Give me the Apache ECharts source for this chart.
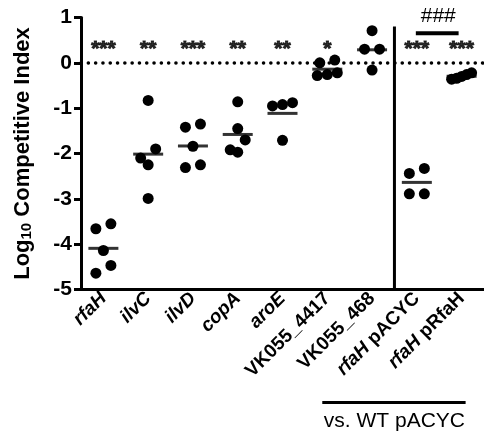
<!DOCTYPE html>
<html>
<head>
<meta charset="utf-8">
<script src="https://cdn.jsdelivr.net/npm/echarts@6/dist/echarts.min.js"></script>
<style>
  html, body { margin: 0; padding: 0; background: #fff; }
  #chart { width: 484px; height: 432px; }
</style>
</head>
<body>
<div id="chart"></div>
<script>
// data (log10 competitive index, one value per mouse)
const categories = ['rfaH', 'ilvC', 'ilvD', 'copA', 'aroE', 'VK055_4417', 'VK055_468', 'rfaH pACYC', 'rfaH pRfaH']
const rfaH = [-3.55, -3.66, -4.14, -4.47, -4.64]
const ilvC = [-0.83, -1.90, -2.10, -2.25, -2.99]
const ilvD = [-1.35, -1.42, -1.84, -2.25, -2.31]
const copA = [-0.86, -1.45, -1.70, -1.92, -1.97]
const aroE = [-0.88, -0.92, -0.95, -1.71]
const vk4417 = [0.06, 0.0, -0.22, -0.26, -0.28]
const vk468 = [0.71, 0.30, 0.30, -0.16]
const rfaHpACYC = [-2.33, -2.44, -2.89, -2.89]
const rfaHpRfaH = [-0.22, -0.26, -0.30, -0.34, -0.36]
const groups = [rfaH, ilvC, ilvD, copA, aroE, vk4417, vk468, rfaHpACYC, rfaHpRfaH]
const significance = ['***', '**', '***', '**', '**', '*', '', '***', '***']
const yMin = -5
const yMax = 1

const font = 'Liberation Sans, Arial, sans-serif'
const dotSize = 11
const gridHeight = 272
const pxPerUnit = gridHeight / (yMax - yMin)

// simple beeswarm: dots closer than one diameter share a row and get spread sideways
function swarm (values) {
  const sorted = values.slice().sort((a, b) => b - a)
  const rows = []
  sorted.forEach(v => {
    const row = rows[rows.length - 1]
    if (row && (row[0] - v) * pxPerUnit < dotSize) row.push(v)
    else rows.push([v])
  })
  const out = []
  rows.forEach(row => {
    const n = row.length
    const step = n === 2 ? 15 : (n > 2 ? 20 / (n - 1) : 0)
    row.forEach((v, i) => out.push([v, ((n - 1) / 2 - i) * step]))
  })
  return out
}

const dots = []
const means = []
groups.forEach((vals, i) => {
  swarm(vals).forEach(d => dots.push([i, d[0], d[1]]))
  means.push([i, vals.reduce((a, b) => a + b, 0) / vals.length])
})

function labelFmt (name) {
  if (name.indexOf('VK055') === 0) return '{n|' + name + '}'
  const parts = name.split(' ')
  return '{i|' + parts[0] + '}' + (parts[1] ? '{n| ' + parts[1] + '}' : '')
}

const myChart = echarts.init(document.getElementById('chart'))
const option = {
  backgroundColor: '#fff',
  animation: false,
  grid: { left: 81, top: 17.5, width: 408, height: gridHeight, containLabel: false },
  xAxis: {
    type: 'category',
    data: categories,
    axisLine: { onZero: false, lineStyle: { color: '#000', width: 3 } },
    axisTick: { alignWithLabel: true, length: 8, lineStyle: { color: '#000', width: 3 } },
    axisLabel: {
      interval: 0,
      rotate: 45,
      margin: 6,
      formatter: labelFmt,
      rich: {
        i: { fontFamily: font, fontSize: 19, fontWeight: 'bold', fontStyle: 'italic', color: '#000' },
        n: { fontFamily: font, fontSize: 19, fontWeight: 'bold', color: '#000' }
      }
    },
    splitLine: { show: false }
  },
  yAxis: {
    type: 'value',
    min: yMin,
    max: yMax,
    interval: 1,
    name: 'Log{sub|10} Competitive Index',
    nameLocation: 'middle',
    nameGap: 47,
    nameTextStyle: {
      fontFamily: font, fontSize: 22, fontWeight: 'bold', color: '#000',
      rich: {
        sub: { fontFamily: font, fontSize: 15, fontWeight: 'bold', color: '#000', verticalAlign: 'bottom', padding: [8, 0, 0, 0] }
      }
    },
    axisLine: { show: true, lineStyle: { color: '#000', width: 3 } },
    axisTick: { show: true, length: 7, lineStyle: { color: '#000', width: 3 } },
    axisLabel: { fontFamily: font, fontSize: 21, fontWeight: 'bold', color: '#000', margin: 9 },
    splitLine: { show: false }
  },
  series: [
    {
      name: 'mean',
      type: 'scatter',
      data: means,
      symbol: 'rect',
      symbolSize: [30, 3],
      itemStyle: { color: '#000' },
      z: 3,
      markLine: {
        silent: true,
        symbol: 'none',
        label: { show: false },
        lineStyle: { type: [0.1, 7.2], cap: 'round', width: 3.5, color: '#000' },
        data: [{ yAxis: 0 }]
      }
    },
    {
      name: 'mice',
      type: 'custom',
      data: dots,
      encode: { x: 0, y: 1 },
      z: 4,
      renderItem (params, api) {
        const p = api.coord([api.value(0), api.value(1)])
        return {
          type: 'circle',
          shape: { cx: p[0] + api.value(2), cy: p[1], r: dotSize / 2 },
          style: { fill: '#000' }
        }
      }
    },
    {
      name: 'sig',
      type: 'scatter',
      data: significance.map((s, i) => [i, 0.31, s]),
      symbolSize: 0,
      label: {
        show: true,
        position: 'inside',
        formatter: p => p.data[2],
        fontFamily: font,
        fontSize: 21,
        fontWeight: 'bold',
        color: '#000',
        textBorderColor: '#000',
        textBorderWidth: 1
      }
    }
  ]
}
myChart.setOption(option)

// divider, ### bracket and "vs. WT pACYC" bracket
const px = (i, v) => myChart.convertToPixel({ gridIndex: 0 }, [i, v])
const divX = (px(6, 0)[0] + px(7, 0)[0]) / 2
const divTop = px(0, 0.8)[1]
const divBottom = px(0, yMin)[1]
const barY = px(0, 0.65)[1]
myChart.setOption({
  graphic: [
    { type: 'line', shape: { x1: divX, y1: divTop, x2: divX, y2: divBottom }, style: { stroke: '#000', lineWidth: 3 } },
    { type: 'line', shape: { x1: px(7, 0)[0] - 1, y1: barY, x2: px(8, 0)[0] - 3, y2: barY }, style: { stroke: '#000', lineWidth: 4 } },
    { type: 'text', x: (px(7, 0)[0] + px(8, 0)[0]) / 2 - 1, y: barY - 17, style: { text: '###', font: '21px ' + font, fill: '#000', textAlign: 'center', textVerticalAlign: 'middle' } },
    { type: 'line', shape: { x1: px(5, 0)[0] - 5, y1: 402.5, x2: px(8, 0)[0] + 4, y2: 402.5 }, style: { stroke: '#000', lineWidth: 3 } },
    { type: 'text', x: (px(5, 0)[0] + px(8, 0)[0]) / 2, y: 421, style: { text: 'vs. WT pACYC', font: '21px ' + font, fill: '#000', textAlign: 'center', textVerticalAlign: 'middle' } }
  ]
})
</script>
</body>
</html>
